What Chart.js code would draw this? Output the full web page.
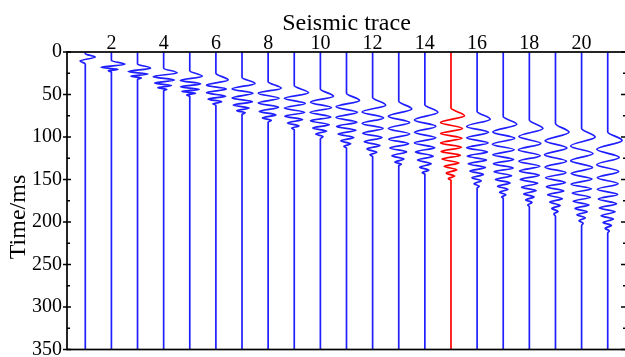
<!DOCTYPE html>
<html>
<head>
<meta charset="utf-8">
<script src="https://cdn.jsdelivr.net/npm/chart.js@4.4.1/dist/chart.umd.min.js"></script>
<style>
  html, body { margin: 0; padding: 0; overflow: hidden; background: #fff; }
  #wrap { width: 640px; height: 375px; }
</style>
</head>
<body>
<div id="wrap"><canvas id="gather" width="640" height="375"></canvas></div>
<script>
// Shot gather — 21 wiggle traces, arrival wavelet on each

const traceNo    = [1, 2, 3, 4, 5, 6, 7, 8, 9, 10, 11, 12, 13, 14, 15, 16, 17, 18, 19, 20, 21];
const traceTicks = [2, 4, 6, 8, 10, 12, 14, 16, 18, 20];
const timeTicks  = [0, 50, 100, 150, 200, 250, 300, 350];
const timeMinor  = [25, 75, 125, 175, 225, 275, 325];
const redTrace   = 15;

// where each wavelet leaves / rejoins the zero line (ms)
const onsetMs = [2, 10, 14, 19, 22, 25, 30, 35, 39.5, 43.5, 48.5, 53.5, 58, 62, 66, 70, 76, 80, 84, 90, 94];
const endMs   = [14, 23.5, 32, 45.5, 52, 62.5, 73.5, 82.5, 91.5, 102, 113, 123, 133.5, 143.5, 151, 160, 172, 182, 193.5, 204, 213];

// swing extrema per trace: time (ms) and offset (in trace spacings, + = right)
const peakMs = [
  [6, 10.5],
  [14.5, 18, 20.5, 22],
  [19, 23, 26, 28.5, 30.5],
  [24.5, 29, 33, 36.5, 39.5, 42, 44],
  [28.5, 33.5, 37.5, 41, 44, 46.5, 48.5, 50.5],
  [33, 39, 43.5, 48, 52, 55.5, 58.5, 61],
  [37, 43.5, 48.5, 54, 58.5, 62.5, 66, 69, 71.5],
  [42.5, 48.5, 54.5, 60, 65, 70, 74, 77.5, 80.5],
  [48, 54.5, 60.5, 66, 71, 75.5, 79.5, 83.5, 87, 89.5],
  [52, 59, 65.5, 71, 76.5, 81, 85.5, 89.5, 93, 96.5, 99.5],
  [57, 64.5, 71, 77, 82.5, 87.5, 92, 96.5, 100.5, 104.5, 108, 111],
  [62.5, 70.5, 77.5, 84, 90, 95.5, 100.5, 105.5, 110, 114, 118, 121],
  [67, 75.5, 83, 90, 96.5, 102.5, 108, 113, 117.5, 122, 126, 129.5, 132],
  [71, 80, 87.5, 94.5, 101, 107, 112.5, 117.5, 122.5, 127, 131.5, 135.5, 139, 142],
  [75, 83, 90, 96, 101.5, 107, 112, 117, 121.5, 126, 130.5, 134.5, 138.5, 142.5, 146, 149],
  [79, 87.5, 94.5, 101, 107, 112.5, 117.5, 122.5, 127, 131.5, 136, 140, 144, 148, 151.5, 155, 158],
  [85, 94, 101.5, 108.5, 115, 121, 126.5, 131.5, 136.5, 141, 145.5, 150, 154, 158, 161.5, 165, 168, 170.5],
  [90, 99.5, 107.5, 115, 122, 128.5, 134.5, 140, 145, 150, 154.5, 159, 163, 167, 170.5, 174, 177, 180],
  [94.5, 104.5, 113, 121, 128.5, 135.5, 142, 148, 153.5, 158.5, 163.5, 168, 172.5, 176.5, 180.5, 184, 187.5, 190.5],
  [100, 110.5, 119.5, 128, 136, 143, 149.5, 155.5, 161, 166, 171, 175.5, 180, 184, 188, 191.5, 195, 198.5, 201.5],
  [104, 114.5, 124, 132.5, 140.5, 148, 155, 161.5, 167.5, 173, 178.5, 183.5, 188, 192.5, 196.5, 200.5, 204, 207.5, 210.5],
];
const peakSwing = [
  [0.38, -0.2],
  [0.52, -0.4, 0.25, -0.12],
  [0.5, -0.36, 0.4, -0.25, 0.15],
  [0.52, -0.4, 0.42, -0.35, 0.3, -0.22, 0.12],
  [0.48, -0.36, 0.42, -0.36, 0.36, -0.3, 0.22, -0.12],
  [0.47, -0.36, 0.4, -0.36, 0.38, -0.3, 0.22, -0.12],
  [0.5, -0.38, 0.42, -0.38, 0.4, -0.34, 0.28, -0.2, 0.12],
  [0.5, -0.38, 0.42, -0.38, 0.4, -0.34, 0.3, -0.22, 0.12],
  [0.55, -0.38, 0.42, -0.38, 0.4, -0.36, 0.32, -0.26, 0.18, -0.1],
  [0.5, -0.38, 0.42, -0.4, 0.4, -0.38, 0.34, -0.3, 0.24, -0.18, 0.1],
  [0.5, -0.4, 0.42, -0.4, 0.4, -0.38, 0.36, -0.32, 0.28, -0.22, 0.16, -0.1],
  [0.5, -0.4, 0.42, -0.4, 0.4, -0.38, 0.36, -0.32, 0.28, -0.22, 0.16, -0.1],
  [0.5, -0.4, 0.42, -0.4, 0.42, -0.38, 0.38, -0.34, 0.3, -0.26, 0.2, -0.15, 0.1],
  [0.5, -0.4, 0.42, -0.4, 0.42, -0.4, 0.38, -0.36, 0.32, -0.28, 0.24, -0.2, 0.15, -0.1],
  [0.52, -0.4, 0.44, -0.4, 0.42, -0.4, 0.4, -0.38, 0.36, -0.34, 0.3, -0.26, 0.22, -0.18, 0.14, -0.1],
  [0.5, -0.4, 0.44, -0.4, 0.42, -0.4, 0.4, -0.38, 0.36, -0.34, 0.32, -0.28, 0.24, -0.2, 0.16, -0.12, 0.08],
  [0.52, -0.4, 0.44, -0.42, 0.42, -0.4, 0.4, -0.38, 0.38, -0.35, 0.32, -0.3, 0.26, -0.22, 0.18, -0.14, 0.1, -0.06],
  [0.52, -0.4, 0.44, -0.42, 0.42, -0.4, 0.4, -0.38, 0.38, -0.35, 0.32, -0.3, 0.26, -0.22, 0.18, -0.14, 0.1, -0.06],
  [0.52, -0.4, 0.44, -0.42, 0.42, -0.4, 0.4, -0.38, 0.38, -0.35, 0.32, -0.3, 0.26, -0.22, 0.18, -0.14, 0.1, -0.06],
  [0.52, -0.42, 0.44, -0.42, 0.42, -0.4, 0.4, -0.4, 0.38, -0.36, 0.34, -0.32, 0.28, -0.25, 0.22, -0.18, 0.14, -0.1, 0.06],
  [0.55, -0.42, 0.44, -0.42, 0.42, -0.4, 0.4, -0.4, 0.38, -0.36, 0.34, -0.32, 0.28, -0.25, 0.22, -0.18, 0.14, -0.1, 0.06],
];

const SERIF = "'Liberation Serif', 'Times New Roman', serif";
const TICK_FONT = { family: SERIF, size: 20 };

function traceData(k) {
  const n = traceNo[k];
  const pts = [{ x: n, y: timeTicks[0] }, { x: n, y: onsetMs[k] }];
  peakMs[k].forEach((t, j) => pts.push({ x: n + peakSwing[k][j], y: t }));
  pts.push({ x: n, y: endMs[k] }, { x: n, y: timeTicks[timeTicks.length - 1] });
  return pts;
}

// box, inward ticks and axis titles
const frame = {
  id: 'frame',
  afterDatasetsDraw(chart) {
    const { ctx, chartArea: a } = chart;
    const y = chart.scales.y;
    ctx.save();
    ctx.strokeStyle = '#000';
    ctx.lineWidth = 1.7;
    ctx.strokeRect(a.left, a.top, a.right - a.left, a.bottom - a.top);

    ctx.lineWidth = 1.3;
    ctx.beginPath();
    timeTicks.forEach(v => {
      const py = y.getPixelForValue(v);
      ctx.moveTo(a.left - 4, py); ctx.lineTo(a.left + 4, py);
      ctx.moveTo(a.right - 5, py); ctx.lineTo(a.right, py);
    });
    timeMinor.forEach(v => {
      const py = y.getPixelForValue(v);
      ctx.moveTo(a.left, py); ctx.lineTo(a.left + 3, py);
      ctx.moveTo(a.right - 3, py); ctx.lineTo(a.right, py);
    });
    ctx.stroke();

    ctx.fillStyle = '#000';
    ctx.font = `24px ${SERIF}`;
    ctx.textAlign = 'center';
    ctx.textBaseline = 'alphabetic';
    ctx.fillText('Seismic trace', (a.left + a.right) / 2, 30);
    ctx.translate(25, 217);
    ctx.rotate(-Math.PI / 2);
    ctx.fillText('Time/ms', 0, 0);
    ctx.restore();
  }
};

new Chart(document.getElementById('gather'), {
  type: 'line',
  data: {
    datasets: traceNo.map((n, k) => ({
      label: 'Trace ' + n,
      data: traceData(k),
      borderColor: n === redTrace ? '#ff0000' : '#1e1eff',
      borderWidth: 1.7,
      pointRadius: 0,
      fill: false,
    })),
  },
  options: {
    responsive: false,
    animation: false,
    events: [],
    indexAxis: 'y',
    layout: { padding: { top: 0, left: 0, right: 14, bottom: 25.5 } },
    elements: { line: { cubicInterpolationMode: 'monotone' } },
    plugins: { legend: { display: false }, tooltip: { enabled: false } },
    scales: {
      x: {
        type: 'linear', position: 'top', min: 0.3, max: 21.7,
        grid: { display: false, tickLength: 0 }, border: { display: false },
        afterBuildTicks: s => { s.ticks = traceTicks.map(v => ({ value: v })); },
        afterFit: s => { s.height = 52; },
        ticks: { font: TICK_FONT, color: '#000', padding: -4, maxRotation: 0, autoSkip: false },
      },
      y: {
        type: 'linear', position: 'left', reverse: true, min: 0, max: 350,
        grid: { display: false, tickLength: 0 }, border: { display: false },
        afterBuildTicks: s => { s.ticks = timeTicks.map(v => ({ value: v })); },
        afterFit: s => { s.width = 67; s.paddingTop = 0; s.paddingBottom = 0; },
        ticks: { font: TICK_FONT, color: '#000', padding: 5, autoSkip: false },
      },
    },
  },
  plugins: [frame],
});
</script>
</body>
</html>
